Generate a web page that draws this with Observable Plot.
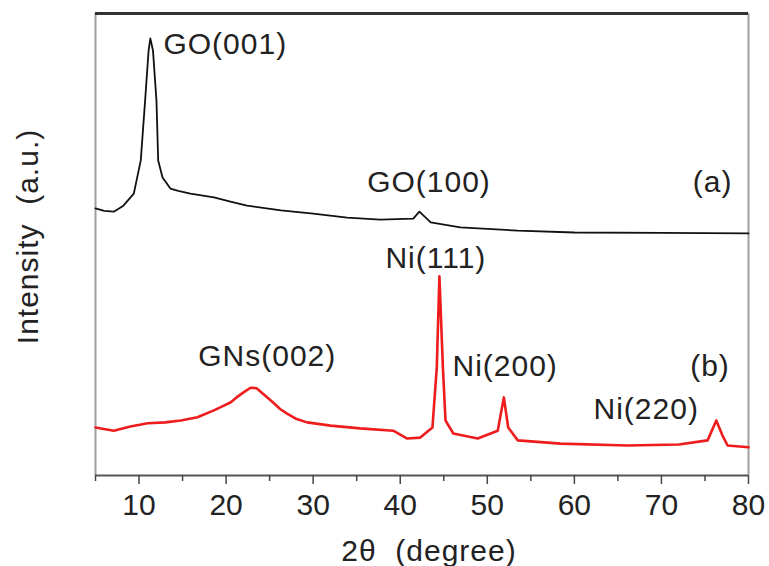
<!DOCTYPE html>
<html>
<head>
<meta charset="utf-8">
<script src="https://cdn.jsdelivr.net/npm/d3@7"></script>
<script src="https://cdn.jsdelivr.net/npm/@observablehq/plot@0.6"></script>
<style>
  html, body { margin: 0; padding: 0; background: #fff; }
  #chart svg text { white-space: pre; }
  #chart svg g[aria-label="text"] text { letter-spacing: 1px; }
</style>
</head>
<body>
<div id="chart"></div>
<script>
// Curve (a): GO, 2θ (degree) and intensity (a.u., offset)
const thetaA = [5, 6, 7.1, 8.2, 9.4, 10.2, 10.7, 11.1, 11.3, 11.6, 12.0, 12.2, 12.7, 13.6, 14.5, 15.9, 18.6, 20.5, 22.4, 26.3, 30, 33.9, 37.7, 41.5, 42.2, 43.5, 46.9, 53.5, 60, 70, 80];
const intensityA = [57.8, 57.3, 57.1, 58.4, 61.0, 68.2, 81.2, 92.0, 94.6, 92.0, 81.2, 68.2, 64.5, 62.1, 61.6, 61.0, 60.2, 59.3, 58.4, 57.4, 56.7, 55.8, 55.4, 55.6, 57.1, 54.8, 53.7, 53.0, 52.6, 52.5, 52.4];

// Curve (b): GNs / Ni
const thetaB = [5, 7.1, 9, 11, 13, 14.8, 16.7, 18.6, 19.5, 20.5, 21.2, 22, 22.8, 23.5, 24.3, 25.4, 26.2, 27, 28, 29.3, 32, 35.4, 39.2, 40.8, 42.3, 43.7, 44.2, 44.5, 44.9, 45.2, 46.1, 48.9, 51.2, 51.9, 52.4, 53.5, 58.4, 66.1, 72, 75.3, 76.3, 77, 77.6, 80];
const intensityB = [10.4, 9.7, 10.6, 11.3, 11.5, 11.9, 12.6, 14.1, 14.9, 15.8, 16.9, 18.0, 19.0, 18.9, 17.6, 15.8, 14.4, 13.4, 12.3, 11.5, 10.8, 10.2, 9.7, 8.0, 8.2, 10.4, 23.4, 43.1, 23.4, 11.9, 9.1, 8.0, 9.7, 16.9, 10.4, 7.6, 6.9, 6.5, 6.7, 7.6, 11.9, 8.7, 6.5, 6.1];

// Peak labels
const labelText = ["GO(001)", "GO(100)", "(a)", "Ni(111)", "GNs(002)", "Ni(200)", "(b)", "Ni(220)"];
const labelX = [12.8, 36.2, 73.6, 38.3, 16.8, 46.0, 73.3, 62.2];
const labelY = [91.3, 61.3, 61.3, 45.0, 23.8, 21.6, 21.6, 12.3];

const majorTicks = [10, 20, 30, 40, 50, 60, 70, 80];
const minorTicks = [5, 15, 25, 35, 45, 55, 65, 75];

const xTitle = "2θ  (degree)";
const yTitle = "Intensity  (a.u.)";

const seriesA = thetaA.map((t, i) => ({t, v: intensityA[i]}));
const seriesB = thetaB.map((t, i) => ({t, v: intensityB[i]}));
const labels = labelText.map((s, i) => ({s, x: labelX[i], y: labelY[i]}));

const chart = Plot.plot({
  width: 769,
  height: 566,
  marginLeft: 95,
  marginRight: 21,
  marginTop: 13,
  marginBottom: 91,
  style: {fontFamily: "'Liberation Sans', Arial, sans-serif", background: "#fff", color: "#222"},
  x: {domain: [5, 80]},
  y: {domain: [0, 100], axis: null},
  marks: [
    Plot.ruleX([5, 80], {stroke: "#a0a0a0", strokeWidth: 2}),
    Plot.ruleY([0], {stroke: "#555", strokeWidth: 2}),
    Plot.ruleY([100], {stroke: "#333", strokeWidth: 3}),
    Plot.axisX({ticks: majorTicks, tickSize: 9, tickPadding: 9, fontSize: 30, label: null, stroke: "#444", strokeWidth: 1.5}),
    Plot.axisX({ticks: minorTicks, tickSize: 6, text: null, label: null, stroke: "#444", strokeWidth: 1.5}),
    Plot.line(seriesA, {x: "t", y: "v", stroke: "#111", strokeWidth: 1.8, strokeLinejoin: "round"}),
    Plot.line(seriesB, {x: "t", y: "v", stroke: "#ee1c1c", strokeWidth: 2.6, strokeLinejoin: "round"}),
    Plot.text(labels, {x: "x", y: "y", text: "s", textAnchor: "start", lineAnchor: "bottom", fontSize: 30, fill: "#222"}),
    Plot.text([xTitle], {frameAnchor: "bottom", dy: 85, dx: 7, lineAnchor: "bottom", fontSize: 30, fill: "#222"}),
    Plot.text([yTitle], {frameAnchor: "left", textAnchor: "middle", rotate: -90, dx: -58, dy: -8, lineAnchor: "bottom", fontSize: 30, fill: "#222"})
  ]
});
document.getElementById("chart").appendChild(chart);
</script>
</body>
</html>
